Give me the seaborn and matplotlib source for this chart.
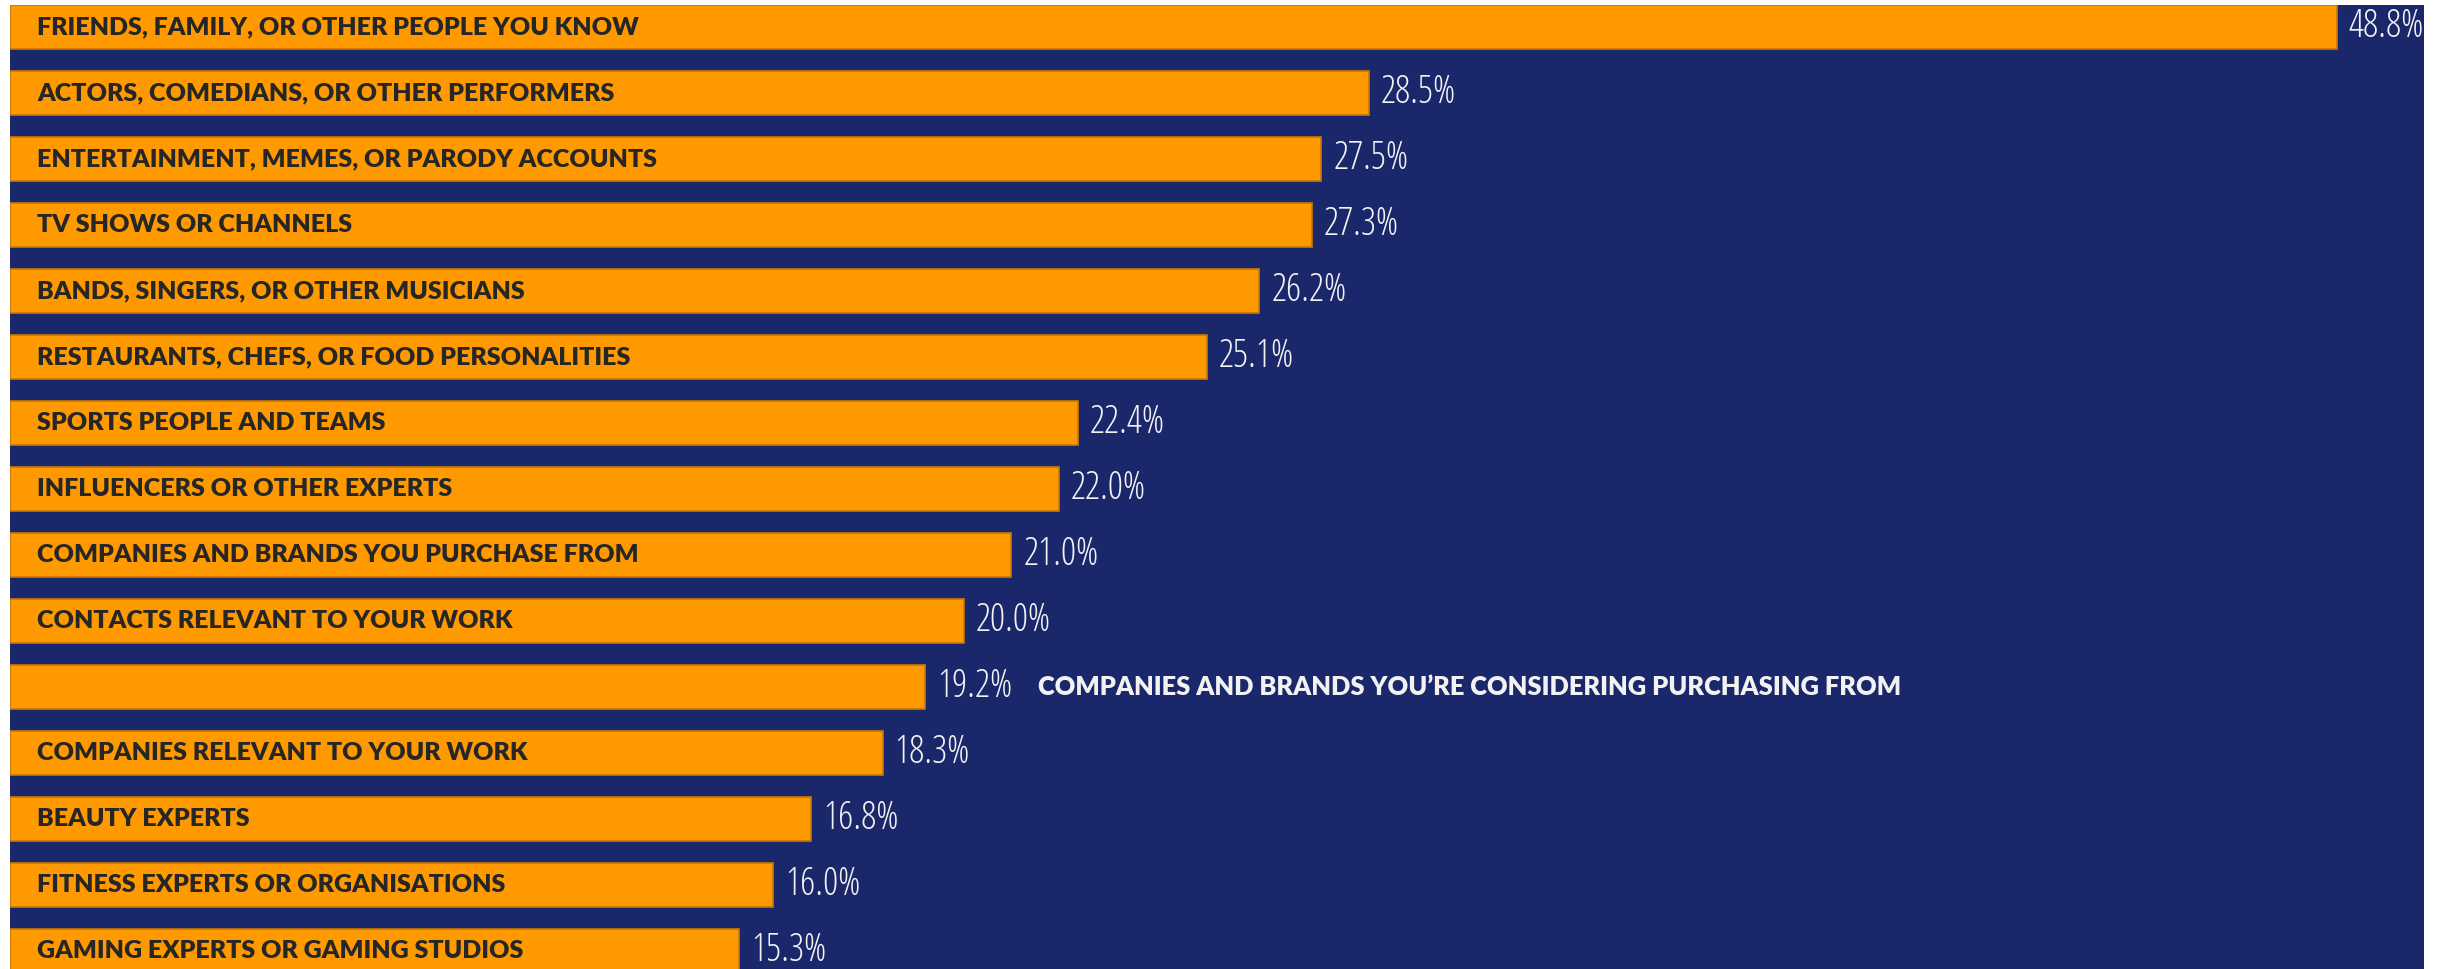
import matplotlib
matplotlib.use("Agg")
import matplotlib.pyplot as plt
import seaborn as sns
import pandas as pd
from matplotlib import font_manager as fm
from matplotlib.textpath import TextPath

categories = [
    "FRIENDS, FAMILY, OR OTHER PEOPLE YOU KNOW",
    "ACTORS, COMEDIANS, OR OTHER PERFORMERS",
    "ENTERTAINMENT, MEMES, OR PARODY ACCOUNTS",
    "TV SHOWS OR CHANNELS",
    "BANDS, SINGERS, OR OTHER MUSICIANS",
    "RESTAURANTS, CHEFS, OR FOOD PERSONALITIES",
    "SPORTS PEOPLE AND TEAMS",
    "INFLUENCERS OR OTHER EXPERTS",
    "COMPANIES AND BRANDS YOU PURCHASE FROM",
    "CONTACTS RELEVANT TO YOUR WORK",
    "COMPANIES AND BRANDS YOU\u2019RE CONSIDERING PURCHASING FROM",
    "COMPANIES RELEVANT TO YOUR WORK",
    "BEAUTY EXPERTS",
    "FITNESS EXPERTS OR ORGANISATIONS",
    "GAMING EXPERTS OR GAMING STUDIOS",
]
values = [48.8, 28.5, 27.5, 27.3, 26.2, 25.1, 22.4, 22.0, 21.0, 20.0, 19.2, 18.3, 16.8, 16.0, 15.3]
value_labels = ["48.8%", "28.5%", "27.5%", "27.3%", "26.2%", "25.1%", "22.4%", "22.0%",
                "21.0%", "20.0%", "19.2%", "18.3%", "16.8%", "16.0%", "15.3%"]
outside_label = "COMPANIES AND BRANDS YOU\u2019RE CONSIDERING PURCHASING FROM"

NAVY = "#1b276b"
ORANGE = "#ff9900"
EDGE = "#c97800"
DARK = "#262626"
WHITE = "#f2f2f2"

DPI = 100
PT2PX = DPI / 72
ALLOWED = ("dejavu sans", "liberation sans", "noto sans", "roboto", "open sans", "lato", "inter")


def text_extent(s, prop):
    tp = TextPath((0, 0), s, size=1, prop=prop)
    ext = tp.get_extents()
    return ext.width, ext.height


def pick_narrow(wmin, wmax):
    best = None
    for f in fm.fontManager.ttflist:
        name = f.name.lower()
        fn = f.fname.lower()
        if not name.startswith(ALLOWED):
            continue
        if f.style != "normal" or "mono" in name or "cjk" in name or "display" in name \
                or "display" in fn or "serif" in name:
            continue
        try:
            w = int(f.weight)
        except (TypeError, ValueError):
            w = 400
        if w < wmin or w > wmax:
            continue
        try:
            prop = fm.FontProperties(fname=f.fname)
            ww, _ = text_extent("28.5%", prop)
            _, hh = text_extent("H", prop)
        except Exception:
            continue
        if hh <= 0:
            continue
        r = ww / hh
        if best is None or r < best[0]:
            best = (r, f.fname, ww, hh)
    return best


best = pick_narrow(300, 500)
target_w, target_h = 72.0, 27.0  # px for "28.5%" and its cap height
if best is not None:
    _, fname, ww, hh = best
    size = min(target_w / (ww * PT2PX), target_h / (hh * PT2PX))
    val_font = fm.FontProperties(fname=fname, size=size)
else:
    val_font = fm.FontProperties(family="DejaVu Sans", size=18)

df = pd.DataFrame({"category": categories, "value": values})

sns.set_theme(style="white")
fig = plt.figure(figsize=(24.4, 9.69), dpi=DPI, facecolor="white")
ax = fig.add_axes([10 / 2440, 0, 2414 / 2440, 964 / 969])
ax.set_facecolor(NAVY)

sns.barplot(data=df, x="value", y="category", orient="h", color=ORANGE,
            width=0.66, edgecolor=EDGE, linewidth=1.2, saturation=1, ax=ax)

ax.set_xlim(0, 50.63)
ax.set_ylim(14.27, -0.333)
ax.set_xlabel("")
ax.set_ylabel("")
ax.set_xticks([])
ax.set_yticks([])
for s in ax.spines.values():
    s.set_visible(False)

px = 72 / DPI  # points per pixel
for i, (cat, v, lab) in enumerate(zip(categories, values, value_labels)):
    ax.annotate(lab, xy=(v, i), xytext=(12 * px, 0), textcoords="offset points",
                ha="left", va="center", color=WHITE, fontproperties=val_font)
    if cat == outside_label:
        ax.annotate(cat, xy=(v, i), xytext=(113 * px, 0), textcoords="offset points",
                    ha="left", va="center", color=WHITE, fontsize=18.4,
                    family="Lato", fontweight="heavy")
    else:
        ax.annotate(cat, xy=(0, i), xytext=(27 * px, 0), textcoords="offset points",
                    ha="left", va="center", color=DARK, fontsize=18,
                    family="Lato", fontweight="heavy")

fig.savefig("out.png", dpi=DPI, facecolor="white")
